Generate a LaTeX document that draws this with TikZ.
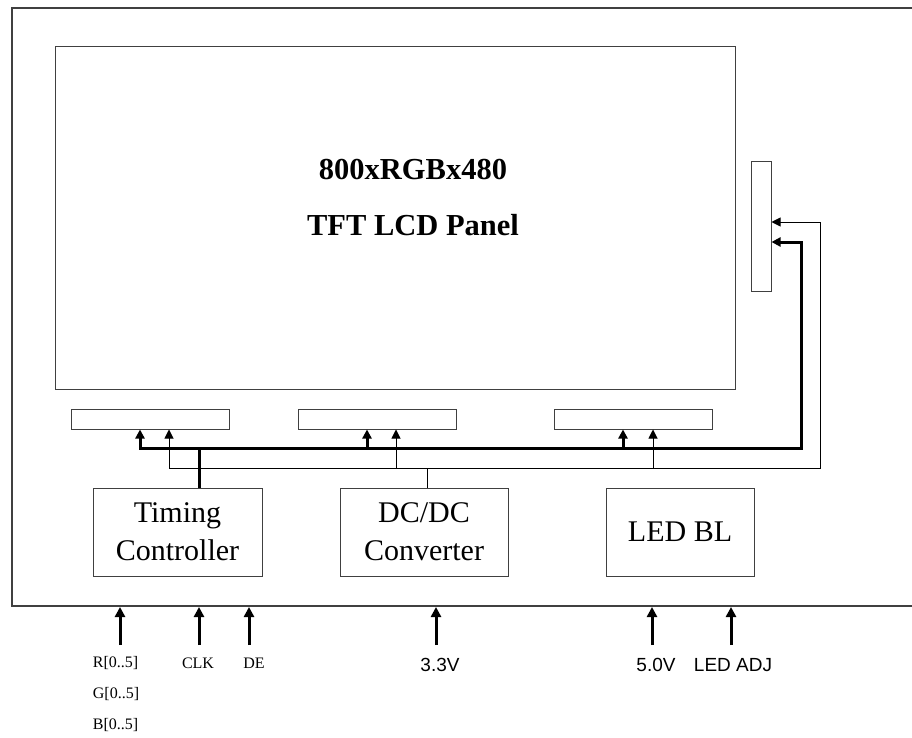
\documentclass[tikz,border=0pt]{standalone}
\usepackage{fontspec}
\setmainfont{Liberation Serif}
\newfontfamily\arialfont{Liberation Sans}
\usetikzlibrary{arrows.meta,positioning}

\begin{document}
\begin{tikzpicture}[x=1pt, y=-1pt,
    blk/.style={draw=black!75, line width=1pt, minimum width=#1, minimum height=88pt,
      inner sep=0pt, align=center, font=\fontsize{30}{38}\selectfont},
    conn/.style={draw=black!75, line width=1pt, inner sep=0pt, minimum width=158pt, minimum height=20pt},
    sig/.style={line width=1pt, -{Triangle[length=9pt,width=9pt]}},
    stem/.style={line width=3pt, -{Triangle[length=9pt,width=9pt]}},
    pin/.style={line width=3pt, -{Triangle[length=10pt,width=10pt]}},
    pinlbl/.style={font=\fontsize{16}{31}\selectfont, align=left, inner sep=0pt},
    vlbl/.style={font=\arialfont\fontsize{19}{22}\selectfont, inner sep=0pt}]
    \useasboundingbox (0,0) rectangle (912,738);
    \fill[white] (0,0) rectangle (912,738);
    % module outline (open at the right)
    \draw[black!75, line width=1.5pt] (912,8) -- (12,8) -- (12,606) -- (912,606);

    % panel
    \node[draw=black!75, line width=1pt, inner sep=0pt, minimum width=680pt, minimum height=342pt] (panel) at (395,218) {};
    \node[font=\bfseries\fontsize{30.5}{56}\selectfont, align=center] (title) at (413,198) {800xRGBx480\\TFT LCD Panel};

    % drivers
    \node[conn] (src1) at (150,419) {};
    \node[conn] (src2) at (377.5,419) {};
    \node[conn] (src3) at (633,419) {};
    \node[conn, minimum width=20pt, minimum height=129pt] (gate) at (761,226.5) {};

    % blocks
    \node[blk=169pt] (tcon) at (177.5,532) {Timing\\Controller};
    \node[blk=168pt] (dcdc) at (424,532) {DC/DC\\Converter};
    \node[blk=148pt] (ledbl) at (680,532) {LED BL};

    % thick bus (data)
    \draw[line width=3pt] (tcon.north -| 199,0) -- (199,448);
    \draw[line width=3pt, {Triangle[length=9pt,width=9pt]}-{Triangle[length=9pt,width=9pt]}]
      (src1.south -| 140,0) -- (140,448) -- (801,448) -- (801,242) -- (gate.east |- 0,242);
    \draw[stem] (367,448) -- (src2.south -| 367,0);
    \draw[stem] (623,448) -- (src3.south -| 623,0);

    % thin bus (power)
    \draw[line width=1pt] (dcdc.north -| 427,0) -- (427,468);
    \draw[line width=1pt, {Triangle[length=9pt,width=9pt]}-{Triangle[length=9pt,width=9pt]}]
      (src1.south -| 169,0) -- (169,468) -- (820,468) -- (820,222) -- (gate.east |- 0,222);
    \draw[sig] (396,468) -- (src2.south -| 396,0);
    \draw[sig] (653,468) -- (src3.south -| 653,0);

    % inputs
    \foreach \x in {120,199,249,436,652,731}
      \draw[pin] (\x,645) -- (\x,607);
    \node[pinlbl] (rgb) at (116,694) {R[0..5]\\G[0..5]\\B[0..5]};
    \node[pinlbl] (clk) at (198,663) {CLK};
    \node[pinlbl] (de) at (254,663) {DE};
    \node[vlbl] (v33) at (440,665) {3.3V};
    \node[vlbl] (v50) at (656,665) {5.0V};
    \node[vlbl] (adj) at (733,665) {LED ADJ};
  \end{tikzpicture}
\end{document}
